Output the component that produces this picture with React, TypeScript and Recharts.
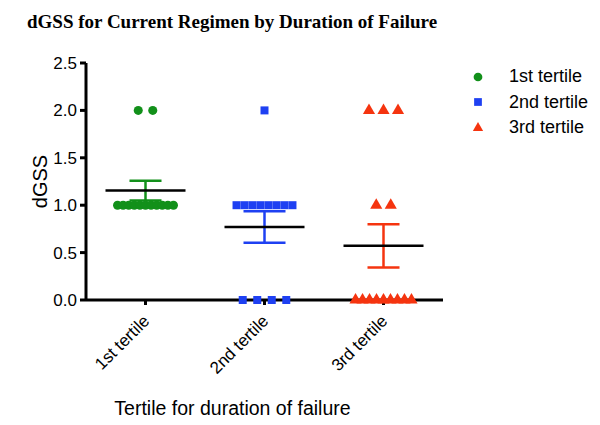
import {
  ScatterChart,
  Scatter,
  XAxis,
  YAxis,
  ZAxis,
  ErrorBar,
  Legend,
  Label,
  Symbols,
} from 'recharts';

const categories = ['1st tertile', '2nd tertile', '3rd tertile'];
const tertile1 = [2, 2, 1, 1, 1, 1, 1, 1, 1, 1, 1, 1, 1];
const tertile2 = [2, 1, 1, 1, 1, 1, 1, 1, 1, 0, 0, 0, 0];
const tertile3 = [2, 2, 2, 1, 1, 0, 0, 0, 0, 0, 0, 0, 0, 0];
const yTicks = [0, 0.5, 1, 1.5, 2, 2.5];

const groups = [tertile1, tertile2, tertile3];
const colors = ['#12901a', '#1e40f2', '#f5340f'];
const shapes = ['circle', 'square', 'triangle'] as const;
const symbolSizes = [70, 70, 46];
const capWidths = [16, 21, 16];

const sans = 'Liberation Sans, Arial, sans-serif';

// spread equal values side by side, like a column scatter plot
const spread = (values: number[], center: number) => {
  const counts: Record<number, number> = {};
  values.forEach((v) => (counts[v] = (counts[v] || 0) + 1));
  const seen: Record<number, number> = {};
  return values.map((v) => {
    const n = counts[v];
    const step = n > 1 ? Math.min(0.122, 0.47 / (n - 1)) : 0;
    seen[v] = (seen[v] ?? -1) + 1;
    return { x: center + (seen[v] - (n - 1) / 2) * step, y: v };
  });
};

// mean and standard error of the mean
const summary = (values: number[], center: number) => {
  const n = values.length;
  const mean = values.reduce((a, b) => a + b, 0) / n;
  const sd = Math.sqrt(values.reduce((a, b) => a + (b - mean) ** 2, 0) / (n - 1));
  return [{ x: center, y: mean, sem: sd / Math.sqrt(n) }];
};

const MeanLine = (props: any) => (
  <line
    x1={props.cx - 40}
    x2={props.cx + 40}
    y1={props.cy}
    y2={props.cy}
    stroke="#000"
    strokeWidth={2.5}
  />
);

const XTick = (props: any) => {
  const { x, y, payload } = props;
  const ax = x + 5;
  const ay = y + 15;
  return (
    <text
      x={ax}
      y={ay}
      transform={`rotate(-45, ${ax}, ${ay})`}
      textAnchor="end"
      fontSize={17}
      fontFamily={sans}
      fill="#000"
    >
      {categories[payload.value - 1]}
    </text>
  );
};

const LegendContent = (props: any) => {
  const items = (props.payload || []).filter((e: any) => categories.includes(e.value));
  return (
    <div style={{ fontFamily: sans, fontSize: 18, color: '#000' }}>
      {items.map((entry: any) => {
        const i = categories.indexOf(entry.value);
        return (
          <div key={entry.value} style={{ display: 'flex', alignItems: 'center', height: 25.5 }}>
            <svg width={30} height={20} style={{ marginRight: 15 }}>
              <Symbols cx={14} cy={10} type={shapes[i]} size={i === 2 ? 46 : 60} fill={colors[i]} />
            </svg>
            <span>{entry.value}</span>
          </div>
        );
      })}
    </div>
  );
};

export default function App() {
  return (
    <div style={{ position: 'absolute', left: 0, top: 0, width: 600, height: 425, background: '#fff' }}>
      <div
        style={{
          position: 'absolute',
          left: 27,
          top: 11,
          fontFamily: 'Liberation Serif, Times New Roman, serif',
          fontWeight: 'bold',
          fontSize: 19,
          color: '#000',
          whiteSpace: 'nowrap',
        }}
      >
        dGSS for Current Regimen by Duration of Failure
      </div>
      <ScatterChart width={600} height={425} margin={{ top: 63, right: 157, left: 0, bottom: 0 }}>
        <XAxis
          type="number"
          dataKey="x"
          domain={[0.5, 3.5]}
          ticks={[1, 2, 3]}
          height={125}
          axisLine={{ stroke: '#000', strokeWidth: 3 }}
          tickLine={{ stroke: '#000', strokeWidth: 3 }}
          tickSize={5}
          tick={<XTick />}
        >
          <Label
            value="Tertile for duration of failure"
            position="insideBottom"
            offset={10}
            dx={-32}
            style={{ fontSize: 19.5, fill: '#000', fontFamily: sans }}
          />
        </XAxis>
        <YAxis
          type="number"
          dataKey="y"
          domain={[0, 2.5]}
          ticks={yTicks}
          width={86}
          axisLine={{ stroke: '#000', strokeWidth: 3 }}
          tickLine={{ stroke: '#000', strokeWidth: 3 }}
          tickSize={6}
          tickMargin={3}
          tickFormatter={(v: number) => v.toFixed(1)}
          tick={{ fontSize: 17, fill: '#000', fontFamily: sans }}
        >
          <Label
            value="dGSS"
            angle={-90}
            position="center"
            dx={-3}
            style={{ fontSize: 20, fill: '#000', fontFamily: sans }}
          />
        </YAxis>
        {symbolSizes.map((s, i) => (
          <ZAxis key={`z-${i}`} zAxisId={`z${i}`} range={[s, s]} />
        ))}
        {groups.map((g, i) => (
          <Scatter
            key={`mean-${i}`}
            data={summary(g, i + 1)}
            zAxisId={`z${i}`}
            shape={<MeanLine />}
            legendType="none"
            isAnimationActive={false}
          >
            <ErrorBar
              dataKey="sem"
              direction="y"
              width={capWidths[i]}
              stroke={colors[i]}
              strokeWidth={2.5}
              isAnimationActive={false}
            />
          </Scatter>
        ))}
        {groups.map((g, i) => (
          <Scatter
            key={categories[i]}
            name={categories[i]}
            data={spread(g, i + 1)}
            zAxisId={`z${i}`}
            fill={colors[i]}
            shape={shapes[i]}
            legendType={shapes[i]}
            isAnimationActive={false}
          />
        ))}
        <Legend
          layout="vertical"
          align="center"
          verticalAlign="middle"
          content={<LegendContent />}
          wrapperStyle={{ left: 464, top: 64, width: 136 }}
        />
      </ScatterChart>
    </div>
  );
}
